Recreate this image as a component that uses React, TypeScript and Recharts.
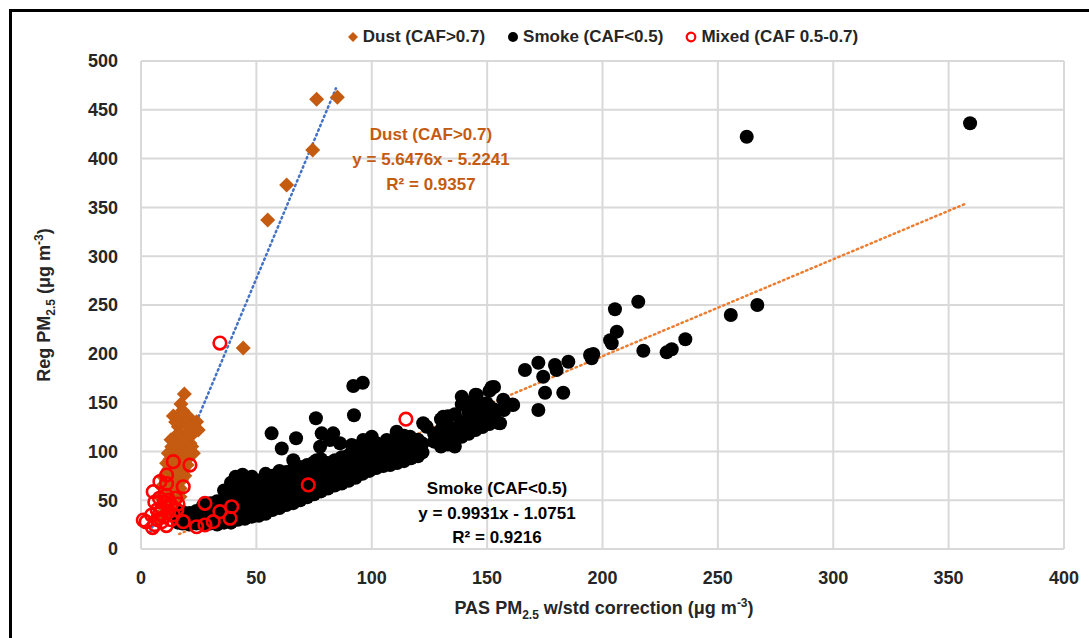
import React from "react";
import {
  CartesianGrid,
  Legend,
  ReferenceLine,
  Scatter,
  ScatterChart,
  XAxis,
  YAxis,
} from "recharts";

const FONT = "'Liberation Sans', Arial, sans-serif";
const DUST = "#C55A11";
const MIXED = "#FF0000";

const xTicks = [0, 50, 100, 150, 200, 250, 300, 350, 400];
const yTicks = [0, 50, 100, 150, 200, 250, 300, 350, 400, 450, 500];

// dust (CAF > 0.7)
const dustPoints = [
  [76.1, 460.7], [85.1, 462.8], [74.4, 408.8], [63.1, 373], [54.9, 337], [44.3, 206],
  [18.8, 158.8], [17.3, 148.6], [14, 136.3], [17.6, 137.3], [20.5, 135.6], [24.1, 130.4],
  [24.8, 121.9], [22.7, 118.5], [19.8, 128.8], [16.2, 125.3], [14.7, 115], [17.6, 117],
  [13.3, 104.8], [16.2, 106.6], [21.2, 108.3], [11.8, 98], [14.7, 100], [19.1, 101.4],
  [22.7, 98], [11.1, 87.8], [16.2, 90], [18.3, 81], [9.7, 74], [13.3, 74], [17.6, 70.7],
  [9, 63.8], [13.3, 60.5], [16.9, 53.6], [8.2, 53.6], [11.8, 46.8], [15.5, 41.7],
  [10.4, 36.6], [7.5, 33], [9, 45], [12, 55], [14, 65], [12, 82], [15, 88], [20, 92],
  [19, 112], [23, 124], [12.5, 92], [14, 80], [16, 78], [18, 95], [20, 118], [21, 125],
  [15, 130], [13, 112], [11, 70], [10, 58], [13, 50], [17, 62], [19, 75], [22, 105],
  [18, 142], [16, 96], [20, 86], [18, 110],
];

// smoke (CAF < 0.5): the dense band
const smokeBand = [
  [16, 27], [16, 33], [18, 26], [18, 32], [18, 38], [21, 25], [21, 31], [21, 37],
  [24, 26], [24, 32], [24, 39], [27, 25], [27, 31], [27, 38], [27, 45], [30, 26],
  [30, 33], [30, 40], [30, 47], [33, 25], [33, 32], [33, 40], [33, 49], [36, 27],
  [36, 34], [36, 42], [36, 51], [36, 60], [39, 27], [39, 35], [39, 44], [39, 53],
  [39, 63], [39, 68], [42, 30], [42, 38], [42, 47], [42, 56], [42, 64], [42, 71],
  [45, 31], [45, 39], [45, 48], [45, 57], [45, 66], [48, 33], [48, 41], [48, 50],
  [48, 59], [48, 68], [48, 74], [51, 34], [51, 43], [51, 52], [51, 61], [51, 70],
  [54, 36], [54, 45], [54, 54], [54, 63], [54, 72], [54, 77], [57, 40], [57, 48],
  [57, 57], [57, 66], [57, 75], [60, 42], [60, 50], [60, 59], [60, 68], [60, 77],
  [60, 80], [63, 45], [63, 53], [63, 62], [63, 71], [63, 79], [66, 47], [66, 56],
  [66, 65], [66, 74], [66, 82], [69, 50], [69, 58], [69, 67], [69, 76], [69, 84],
  [72, 53], [72, 61], [72, 70], [72, 79], [72, 86], [75, 56], [75, 64], [75, 73],
  [75, 82], [75, 89], [78, 59], [78, 67], [78, 76], [78, 85], [78, 92], [81, 62],
  [81, 70], [81, 79], [81, 88], [84, 65], [84, 73], [84, 82], [84, 91], [87, 67],
  [87, 76], [87, 85], [87, 94], [90, 70], [90, 78], [90, 87], [90, 96], [93, 73],
  [93, 81], [93, 90], [93, 99], [93, 105], [96, 77], [96, 85], [96, 93], [96, 102],
  [99, 80], [99, 88], [99, 96], [99, 105], [102, 83], [102, 90], [102, 99], [102, 108],
  [105, 85], [105, 93], [105, 102], [108, 86], [108, 94], [108, 103], [108, 110],
  [111, 88], [111, 96], [111, 105], [111, 118], [114, 90], [114, 99], [114, 108],
  [114, 116], [117, 93], [117, 101], [117, 110], [120, 95], [120, 104], [120, 112],
  [122, 99], [122, 108],
];

// smoke: cluster around 125-160
const smokeMid = [
  [127, 110], [127, 118], [130, 105], [130, 113], [130, 122], [130, 133], [133, 107],
  [133, 116], [133, 126], [133, 136], [136, 105], [136, 114], [136, 124], [136, 138],
  [139, 115], [139, 122], [139, 130], [139, 148], [139, 156], [142, 118], [142, 127],
  [142, 140], [142, 150], [145, 122], [145, 132], [145, 145], [145, 158], [148, 125],
  [148, 136], [148, 141], [148, 148], [151, 128], [151, 137], [151, 146], [151, 162],
  [153, 135], [153, 143], [153, 166], [155, 129], [157, 143], [157, 153], [161, 148],
];

// smoke: scattered points
const smokeSpread = [
  [41, 74], [44, 76], [56.6, 118.5], [61, 103], [67.2, 113.4], [75.8, 134], [92.3, 137],
  [77.6, 104.8], [78.3, 118.5], [83.3, 118.5], [66, 91], [76.1, 91], [81.9, 111.7],
  [86.2, 108.3], [91.3, 106.6], [100, 115], [96.3, 111.7], [106.5, 111.7], [92, 167],
  [96.1, 170.4], [102, 108.3], [110.8, 120.2], [116.6, 115], [122.3, 128.8],
  [123.8, 125.3], [131, 135.6], [145.5, 157.8], [152, 165.7], [149.8, 149.3],
  [161.3, 147.5], [172.2, 142.4], [175.1, 160.1], [183, 160.1], [166.4, 183.4],
  [172.2, 190.9], [179.4, 188.5], [180.1, 183.4], [185.2, 191.9], [174.3, 176.5],
  [194.6, 198.8], [196, 199.8], [195.3, 195.4], [204, 210.8], [206.2, 222.7],
  [203.3, 214], [205.4, 245.6], [215.5, 253.4], [217.7, 203.2], [227.8, 201.5],
  [230, 204.6], [235.9, 214.9], [255.6, 239.8], [267.1, 250], [262.5, 422.4],
  [359.3, 436.2], [157.3, 142.4], [155.6, 128.8],
];

// mixed (CAF 0.5-0.7)
const mixedPoints = [
  [34.2, 211], [114.8, 133], [72.5, 65.6], [14, 89.5], [21.2, 86], [11.1, 75.8],
  [8.2, 69], [18.3, 63.8], [5.3, 58.7], [11.1, 67], [27.7, 46.8], [39.3, 43.3],
  [34.2, 38.2], [38.6, 31.5], [18.3, 28], [24.1, 22.8], [27.7, 24.6], [31.3, 28],
  [1, 29.7], [4.6, 34.8], [15.5, 40], [2.2, 27.7], [6, 25], [7, 30], [8, 36], [9, 42],
  [10, 48], [11, 55], [12, 50], [13, 45], [7, 40], [9, 28], [10, 33], [12, 38], [6, 48],
  [8, 52], [5, 22], [11, 24], [13, 30], [14, 35], [15, 52], [16, 46],
];

// linear fits printed on the chart, drawn over each group's x range
const dustFit = { slope: 5.6476, intercept: -5.2241, from: 4, to: 84.5 };
const smokeFit = { slope: 0.9931, intercept: -1.0751, from: 16.5, to: 358 };

const toXY = (pts: number[][]) => pts.map(([x, y]) => ({ x, y }));
const fitSegment = (f: typeof dustFit) => [
  { x: f.from, y: f.slope * f.from + f.intercept },
  { x: f.to, y: f.slope * f.to + f.intercept },
];

const Diamond = (props: any) => {
  const { cx, cy } = props;
  if (cx == null || cy == null) return null;
  const r = 7.5;
  return (
    <path
      d={`M${cx},${cy - r}L${cx + r},${cy}L${cx},${cy + r}L${cx - r},${cy}Z`}
      fill={DUST}
    />
  );
};

const Dot = (props: any) => {
  const { cx, cy } = props;
  if (cx == null || cy == null) return null;
  return <circle cx={cx} cy={cy} r={7} fill="#000" />;
};

const Ring = (props: any) => {
  const { cx, cy } = props;
  if (cx == null || cy == null) return null;
  return <circle cx={cx} cy={cy} r={6.3} fill="none" stroke={MIXED} strokeWidth={2.6} />;
};

const legendItems = [
  { name: "Dust (CAF>0.7)", icon: "dust" },
  { name: "Smoke (CAF<0.5)", icon: "smoke" },
  { name: "Mixed (CAF 0.5-0.7)", icon: "mixed" },
];

const LegendContent = () => (
  <div
    style={{
      display: "flex",
      justifyContent: "center",
      gap: 22,
      fontFamily: FONT,
      fontWeight: 700,
      fontSize: 17,
      color: "#262626",
    }}
  >
    {legendItems.map((item) => (
      <div key={item.name} style={{ display: "flex", alignItems: "center", gap: 4 }}>
        <svg width={12} height={12}>
          {item.icon === "dust" && <path d="M6,1L11,6L6,11L1,6Z" fill={DUST} />}
          {item.icon === "smoke" && <circle cx={6} cy={6} r={5} fill="#000" />}
          {item.icon === "mixed" && (
            <circle cx={6} cy={6} r={4.3} fill="none" stroke={MIXED} strokeWidth={2.2} />
          )}
        </svg>
        <span>{item.name}</span>
      </div>
    ))}
  </div>
);

const tickStyle = { fontFamily: FONT, fontWeight: 700, fontSize: 18, fill: "#262626" };

export default function App() {
  return (
    <div
      style={{
        position: "absolute",
        left: 0,
        top: 0,
        width: 1089,
        height: 638,
        background: "#fff",
        overflow: "hidden",
      }}
    >
      <div
        style={{
          position: "absolute",
          left: 9,
          top: 9,
          width: 1200,
          height: 800,
          border: "3px solid #000",
        }}
      />
      <div style={{ position: "absolute", left: 0, top: 0 }}>
        <ScatterChart
          width={1089}
          height={638}
          margin={{ top: 61, right: 25, bottom: 29, left: 61 }}
        >
          <CartesianGrid stroke="#d9d9d9" strokeWidth={2} />
          <XAxis
            type="number"
            dataKey="x"
            domain={[0, 400]}
            ticks={xTicks}
            height={60}
            axisLine={{ stroke: "#d9d9d9", strokeWidth: 2 }}
            tickLine={false}
            tickMargin={16}
            tick={tickStyle}
            interval={0}
          />
          <YAxis
            type="number"
            dataKey="y"
            domain={[0, 500]}
            ticks={yTicks}
            width={80}
            axisLine={{ stroke: "#d9d9d9", strokeWidth: 2 }}
            tickLine={false}
            tickMargin={17}
            tick={tickStyle}
            interval={0}
          />
          <Legend
            layout="horizontal"
            verticalAlign="middle"
            align="center"
            wrapperStyle={{ top: 27, left: 141, width: 923 }}
            content={<LegendContent />}
          />
          <Scatter
            name="Dust (CAF>0.7)"
            data={toXY(dustPoints)}
            shape={<Diamond />}
            isAnimationActive={false}
          />
          <Scatter
            name="Smoke (CAF<0.5)"
            data={toXY([...smokeBand, ...smokeMid, ...smokeSpread])}
            shape={<Dot />}
            isAnimationActive={false}
          />
          <Scatter
            name="Mixed (CAF 0.5-0.7)"
            data={toXY(mixedPoints)}
            shape={<Ring />}
            isAnimationActive={false}
          />
          <ReferenceLine
            segment={fitSegment(dustFit)}
            stroke="#4472C4"
            strokeWidth={2.5}
            strokeDasharray="1.5 3.5"
            strokeLinecap="round"
          />
          <ReferenceLine
            segment={fitSegment(smokeFit)}
            stroke="#ED7D31"
            strokeWidth={2.5}
            strokeDasharray="1.5 3.5"
            strokeLinecap="round"
          />
          <text
            fontFamily={FONT}
            fontWeight={700}
            fontSize={17}
            fill={DUST}
            textAnchor="middle"
          >
            <tspan x={431} y={140}>Dust (CAF&gt;0.7)</tspan>
            <tspan x={431} y={165}>y = 5.6476x - 5.2241</tspan>
            <tspan x={431} y={190}>R² = 0.9357</tspan>
          </text>
          <text
            fontFamily={FONT}
            fontWeight={700}
            fontSize={17}
            fill="#000"
            textAnchor="middle"
          >
            <tspan x={497} y={494}>Smoke (CAF&lt;0.5)</tspan>
            <tspan x={497} y={519}>y = 0.9931x - 1.0751</tspan>
            <tspan x={497} y={543}>R² = 0.9216</tspan>
          </text>
          <text
            x={604}
            y={614}
            fontFamily={FONT}
            fontWeight={700}
            fontSize={18}
            fill="#262626"
            textAnchor="middle"
          >
            PAS PM
            <tspan fontSize={12} dy={5}>2.5</tspan>
            <tspan dy={-5}> w/std correction (μg m</tspan>
            <tspan fontSize={12} dy={-7}>-3</tspan>
            <tspan dy={7}>)</tspan>
          </text>
          <text
            x={50}
            y={305}
            transform="rotate(-90 50 305)"
            fontFamily={FONT}
            fontWeight={700}
            fontSize={18}
            fill="#262626"
            textAnchor="middle"
          >
            Reg PM
            <tspan fontSize={12} dy={5}>2.5</tspan>
            <tspan dy={-5}> (μg m</tspan>
            <tspan fontSize={12} dy={-7}>-3</tspan>
            <tspan dy={7}>)</tspan>
          </text>
        </ScatterChart>
      </div>
    </div>
  );
}
